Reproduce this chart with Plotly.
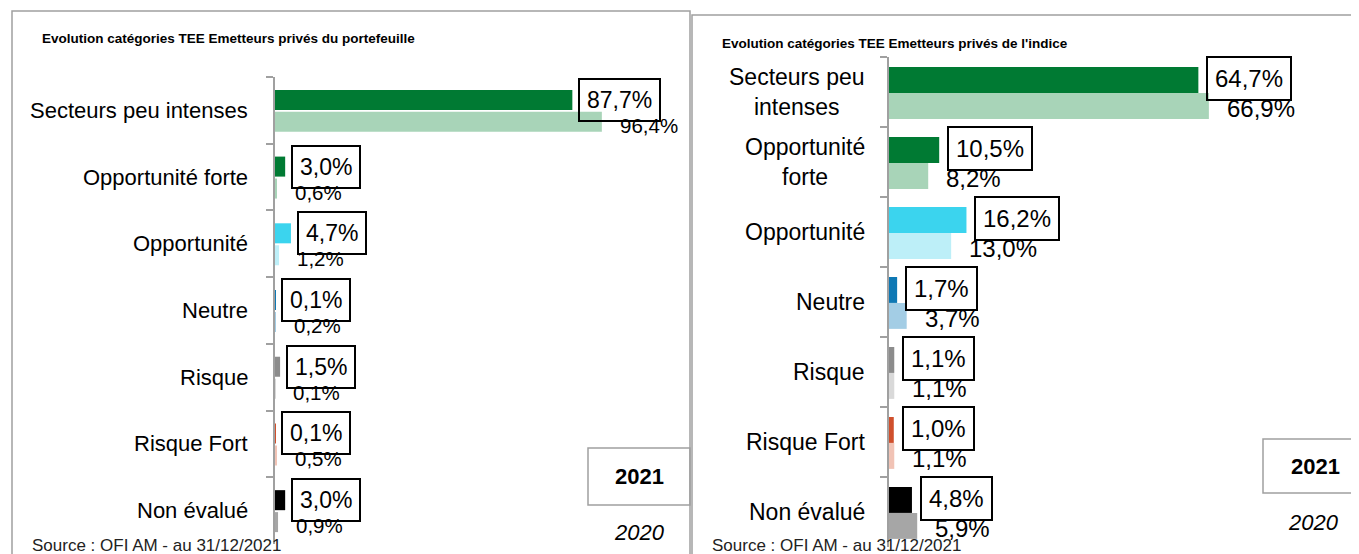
import plotly.graph_objects as go

# ---------------- data ----------------
categories = ["Secteurs peu intenses", "Opportunité forte", "Opportunité", "Neutre",
              "Risque", "Risque Fort", "Non évalué"]
left_labels = categories
right_labels = ["Secteurs peu<br>intenses", "Opportunité<br>forte", "Opportunité", "Neutre",
                "Risque", "Risque Fort", "Non évalué"]
ptf_2021 = [87.7, 3.0, 4.7, 0.1, 1.5, 0.1, 3.0]
ptf_2020 = [96.4, 0.6, 1.2, 0.2, 0.1, 0.5, 0.9]
idx_2021 = [64.7, 10.5, 16.2, 1.7, 1.1, 1.0, 4.8]
idx_2020 = [66.9, 8.2, 13.0, 3.7, 1.1, 1.1, 5.9]
colors_2021 = ["#007A33", "#007A33", "#3BD4EE", "#0E78B4", "#8C8C8C", "#D0502C", "#000000"]
colors_2020 = ["#A8D4B8", "#A8D4B8", "#BDEFF8", "#A3CDE5", "#D9D9D9", "#F1C3B5", "#A6A6A6"]
title_left = "Evolution catégories TEE Emetteurs privés du portefeuille"
title_right = "Evolution catégories TEE Emetteurs privés de l'indice"
source_text = "Source : OFI AM - au 31/12/2021"
years = ["2021", "2020"]

# page body has an 8px margin: the figure starts at (8, 8) in the window
OFF = 8
W, H = 1359 - OFF, 554 - OFF
FONT = "Liberation Sans, Arial, sans-serif"
GRAY = "#A0A0A0"


def px(x):
    return (x - OFF) / W


def py(y):
    return 1 - (y - OFF) / H


def fmt(v):
    return f"{v:.1f}%".replace(".", ",")


fig = go.Figure()

panels = [
    dict(xa="x", ya="y", v21=ptf_2021, v20=ptf_2020,
         off21=-0.307, off20=0.022, w=0.30),
    dict(xa="x2", ya="y2", v21=idx_2021, v20=idx_2020,
         off21=-0.357, off20=0.014, w=0.37),
]

for p in panels:
    fig.add_trace(go.Bar(y=categories, x=p["v21"], orientation="h", name=years[0],
                         marker=dict(color=colors_2021, line=dict(width=0)),
                         offset=p["off21"], width=p["w"],
                         xaxis=p["xa"], yaxis=p["ya"], showlegend=False,
                         hoverinfo="skip"))
    fig.add_trace(go.Bar(y=categories, x=p["v20"], orientation="h", name=years[1],
                         marker=dict(color=colors_2020, line=dict(width=0)),
                         offset=p["off20"], width=p["w"],
                         xaxis=p["xa"], yaxis=p["ya"], showlegend=False,
                         hoverinfo="skip"))

annotations = []

# value labels
label_cfg = [
    dict(xa="x", ya="y", v21=ptf_2021, v20=ptf_2020, f21=23, f20=20.5,
         box_shift=6, ys21=10.5, ys20=-15),
    dict(xa="x2", ya="y2", v21=idx_2021, v20=idx_2020, f21=24, f20=24,
         box_shift=8, ys21=14, ys20=-16),
]
for c in label_cfg:
    for cat, a, b in zip(categories, c["v21"], c["v20"]):
        annotations.append(dict(
            x=a, y=cat, xref=c["xa"], yref=c["ya"], text=fmt(a), showarrow=False,
            xanchor="left", yanchor="middle", xshift=c["box_shift"], yshift=c["ys21"],
            font=dict(family=FONT, size=c["f21"], color="black"),
            bordercolor="black", borderwidth=2, borderpad=7, bgcolor="rgba(255,255,255,0)"))
        annotations.append(dict(
            x=b, y=cat, xref=c["xa"], yref=c["ya"], text=fmt(b), showarrow=False,
            xanchor="left", yanchor="middle", xshift=16, yshift=c["ys20"],
            font=dict(family=FONT, size=c["f20"], color="black")))

# category labels
for cat, lab in zip(categories, left_labels):
    annotations.append(dict(x=px(275), y=cat, xref="paper", yref="y", text=lab,
                            showarrow=False, xanchor="right", yanchor="middle",
                            xshift=-25, align="center",
                            font=dict(family=FONT, size=22, color="black")))
for cat, lab in zip(categories, right_labels):
    annotations.append(dict(x=px(889), y=cat, xref="paper", yref="y2", text=lab,
                            showarrow=False, xanchor="right", yanchor="middle",
                            xshift=-22, align="center",
                            font=dict(family=FONT, size=23, color="black")))

# titles and sources
annotations += [
    dict(x=px(40), y=py(38), xref="paper", yref="paper", text=f"<b>{title_left}</b>",
         showarrow=False, xanchor="left", yanchor="middle",
         font=dict(family=FONT, size=13.5, color="black")),
    dict(x=px(720), y=py(44), xref="paper", yref="paper", text=f"<b>{title_right}</b>",
         showarrow=False, xanchor="left", yanchor="middle",
         font=dict(family=FONT, size=13.5, color="black")),
    dict(x=px(30), y=py(545), xref="paper", yref="paper", text=source_text,
         showarrow=False, xanchor="left", yanchor="middle",
         font=dict(family=FONT, size=17, color="#222")),
    dict(x=px(710), y=py(545), xref="paper", yref="paper", text=source_text,
         showarrow=False, xanchor="left", yanchor="middle",
         font=dict(family=FONT, size=17, color="#222")),
    # year legends
    dict(x=px(639), y=py(476), xref="paper", yref="paper", text=f"<b>{years[0]}</b>",
         showarrow=False, xanchor="center", yanchor="middle",
         font=dict(family=FONT, size=22, color="black")),
    dict(x=px(639), y=py(532), xref="paper", yref="paper", text=f"<i>{years[1]}</i>",
         showarrow=False, xanchor="center", yanchor="middle",
         font=dict(family=FONT, size=22, color="black")),
    dict(x=px(1315), y=py(466), xref="paper", yref="paper", text=f"<b>{years[0]}</b>",
         showarrow=False, xanchor="center", yanchor="middle",
         font=dict(family=FONT, size=22, color="black")),
    dict(x=px(1313), y=py(522), xref="paper", yref="paper", text=f"<i>{years[1]}</i>",
         showarrow=False, xanchor="center", yanchor="middle",
         font=dict(family=FONT, size=22, color="black")),
]

shapes = [
    dict(type="rect", xref="paper", yref="paper", x0=px(12), x1=px(690), y0=-0.1, y1=py(11),
         line=dict(color=GRAY, width=1.5), layer="below"),
    dict(type="rect", xref="paper", yref="paper", x0=px(692), x1=1.05, y0=-0.1, y1=py(15),
         line=dict(color=GRAY, width=1.5), layer="below"),
    dict(type="rect", xref="paper", yref="paper", x0=px(588), x1=px(690), y0=py(505), y1=py(448),
         line=dict(color=GRAY, width=1.5)),
    dict(type="rect", xref="paper", yref="paper", x0=px(1263), x1=1.05, y0=py(493), y1=py(439),
         line=dict(color=GRAY, width=1.5)),
]

xcommon = dict(showgrid=False, zeroline=False, showticklabels=False, ticks="", showline=False,
               fixedrange=True)
ycommon = dict(type="category", categoryorder="array", categoryarray=categories,
               range=[6.5, -0.5], tickson="boundaries", ticks="outside", ticklen=7,
               tickcolor=GRAY, tickwidth=1.5, showline=True, linecolor=GRAY, linewidth=1.5,
               showticklabels=False, showgrid=False, zeroline=False, fixedrange=True)

fig.update_layout(
    width=W, height=H,
    margin=dict(l=0, r=0, t=0, b=0),
    paper_bgcolor="white", plot_bgcolor="rgba(0,0,0,0)",
    barmode="overlay",
    showlegend=False,
    xaxis=dict(domain=[px(275), px(690)], range=[0, 122.4], anchor="y", **xcommon),
    yaxis=dict(domain=[py(544), py(77)], anchor="x", **ycommon),
    xaxis2=dict(domain=[px(889), 1.0], range=[0, 100 - OFF / 4.7], anchor="y2", **xcommon),
    yaxis2=dict(domain=[py(547), py(57)], anchor="x2", **ycommon),
    annotations=annotations,
    shapes=shapes,
    font=dict(family=FONT),
)

fig.write_html("out.html")
